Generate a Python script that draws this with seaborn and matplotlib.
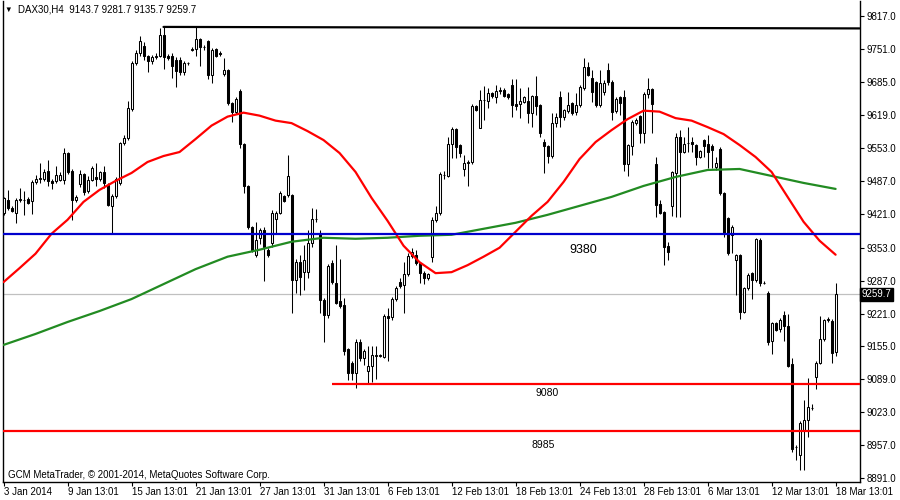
"""DAX30 H4 - bougies, moyennes mobiles et niveaux horizontaux (style MetaTrader)."""
import os
os.environ.setdefault("MPLBACKEND", "Agg")  # pas d'affichage
import matplotlib.pyplot as plt
import seaborn as sns
import numpy as np

sns.set_theme(style="white")
plt.rcParams["font.family"] = ["Liberation Sans", "DejaVu Sans"]
plt.rcParams["text.color"] = "black"

# bougies H4, une par barre (index 0 = 3 Jan 2014)
OPENS = [9422, 9449, 9432, 9422, 9449, 9449, 9450, 9446, 9484, 9491,
         9490, 9506, 9487, 9487, 9489, 9488, 9544, 9506, 9448, 9480,
         9501, 9466, 9489, 9495, 9490, 9504, 9479, 9436, 9456, 9482,
         9563, 9573, 9631, 9723, 9743, 9757, 9738, 9727, 9736, 9738,
         9780, 9738, 9738, 9730, 9730, 9706, 9723, 9750, 9751, 9771,
         9755, 9767, 9700, 9751, 9743, 9701, 9710, 9643, 9626, 9668,
         9562, 9476, 9395, 9338, 9372, 9388, 9349, 9362, 9410, 9422,
         9456, 9459, 9459, 9288, 9325, 9305, 9305, 9363, 9410, 9382,
         9249, 9218, 9322, 9282, 9246, 9238, 9150, 9122, 9101, 9163,
         9131, 9106, 9116, 9136, 9136, 9133, 9216, 9215, 9250, 9285,
         9278, 9300, 9337, 9338, 9322, 9303, 9292, 9334, 9409, 9422,
         9498, 9497, 9561, 9591, 9559, 9510, 9523, 9524, 9638, 9593,
         9649, 9648, 9664, 9655, 9668, 9670, 9661, 9680, 9642, 9642,
         9646, 9648, 9624, 9658, 9640, 9566, 9557, 9537, 9603, 9655,
         9616, 9628, 9643, 9626, 9640, 9673, 9715, 9693, 9686, 9640,
         9666, 9710, 9686, 9628, 9655, 9656, 9521, 9557, 9603, 9618,
         9583, 9662, 9671, 9521, 9441, 9425, 9357, 9436, 9502, 9575,
         9546, 9563, 9565, 9559, 9536, 9569, 9561, 9558, 9514, 9551,
         9462, 9412, 9379, 9328, 9338, 9225, 9272, 9302, 9288, 9369,
         9283, 9263, 9165, 9201, 9189, 9219, 9196, 9120, 8954, 8937,
         8987, 9007, 9032, 9094, 9122, 9169, 9209, 9207, 9143.7]
HIGHS = [9455, 9468, 9436, 9452, 9472, 9466, 9455, 9488, 9499, 9522,
         9510, 9529, 9490, 9516, 9505, 9553, 9546, 9510, 9458, 9509,
         9503, 9496, 9516, 9522, 9507, 9517, 9482, 9460, 9494, 9566,
         9580, 9648, 9727, 9750, 9778, 9765, 9740, 9740, 9744, 9793,
         9797, 9742, 9743, 9735, 9735, 9728, 9726, 9756, 9797, 9774,
         9760, 9770, 9754, 9754, 9748, 9733, 9712, 9645, 9655, 9672,
         9563, 9478, 9396, 9405, 9392, 9395, 9352, 9428, 9426, 9466,
         9458, 9539, 9460, 9330, 9338, 9359, 9389, 9432, 9430, 9388,
         9252, 9320, 9328, 9359, 9330, 9252, 9152, 9125, 9170, 9170,
         9150, 9156, 9156, 9156, 9140, 9220, 9233, 9254, 9276, 9292,
         9324, 9342, 9352, 9348, 9325, 9306, 9303, 9415, 9436, 9505,
         9506, 9575, 9596, 9594, 9562, 9540, 9530, 9642, 9640, 9670,
         9678, 9673, 9666, 9680, 9676, 9674, 9663, 9691, 9692, 9673,
         9658, 9676, 9660, 9698, 9642, 9571, 9560, 9623, 9623, 9668,
         9632, 9666, 9645, 9663, 9680, 9733, 9725, 9710, 9688, 9710,
         9690, 9723, 9690, 9655, 9658, 9670, 9562, 9610, 9614, 9620,
         9666, 9693, 9673, 9536, 9449, 9427, 9365, 9507, 9584, 9589,
         9576, 9596, 9576, 9562, 9550, 9572, 9579, 9561, 9536, 9556,
         9465, 9415, 9398, 9340, 9340, 9275, 9302, 9305, 9373, 9372,
         9287, 9266, 9204, 9204, 9212, 9226, 9221, 9131, 8957, 9005,
         9047, 9091, 9039, 9125, 9216, 9211, 9214, 9210, 9281.7]
LOWS = [9418, 9428, 9424, 9403, 9444, 9419, 9440, 9420, 9480, 9482,
        9487, 9476, 9470, 9483, 9486, 9481, 9500, 9409, 9444, 9474,
        9458, 9462, 9486, 9476, 9487, 9472, 9436, 9383, 9452, 9478,
        9560, 9570, 9627, 9720, 9738, 9730, 9706, 9722, 9731, 9735,
        9711, 9730, 9693, 9676, 9700, 9700, 9720, 9748, 9737, 9717,
        9750, 9691, 9683, 9735, 9738, 9698, 9640, 9606, 9622, 9553,
        9462, 9390, 9345, 9335, 9360, 9287, 9335, 9355, 9380, 9420,
        9444, 9455, 9223, 9262, 9258, 9268, 9292, 9355, 9405, 9223,
        9163, 9213, 9280, 9240, 9232, 9138, 9088, 9088, 9071, 9126,
        9118, 9081, 9084, 9089, 9133, 9131, 9126, 9209, 9247, 9273,
        9223, 9297, 9333, 9318, 9282, 9280, 9289, 9325, 9405, 9418,
        9490, 9494, 9533, 9533, 9536, 9497, 9477, 9520, 9628, 9593,
        9610, 9634, 9653, 9643, 9662, 9655, 9652, 9615, 9630, 9613,
        9643, 9603, 9596, 9620, 9576, 9502, 9522, 9534, 9596, 9596,
        9610, 9623, 9620, 9620, 9636, 9670, 9697, 9646, 9636, 9636,
        9660, 9680, 9609, 9624, 9620, 9506, 9496, 9539, 9600, 9563,
        9563, 9653, 9583, 9415, 9420, 9318, 9328, 9417, 9414, 9414,
        9543, 9546, 9546, 9519, 9533, 9536, 9512, 9512, 9509, 9458,
        9375, 9339, 9342, 9258, 9211, 9222, 9269, 9251, 9285, 9276,
        9280, 9158, 9140, 9185, 9183, 9165, 9113, 8944, 8928, 8908,
        8908, 8974, 9027, 9069, 9119, 9166, 9205, 9121, 9135.7]
CLOSES = [9452, 9432, 9427, 9449, 9450, 9448, 9443, 9484, 9490, 9492,
          9504, 9486, 9482, 9499, 9499, 9544, 9504, 9448, 9454, 9501,
          9464, 9489, 9512, 9490, 9504, 9482, 9439, 9456, 9490, 9563,
          9574, 9633, 9723, 9743, 9768, 9737, 9727, 9735, 9737, 9780,
          9735, 9734, 9717, 9708, 9706, 9724, 9724, 9752, 9771, 9755,
          9756, 9700, 9750, 9738, 9742, 9710, 9643, 9626, 9651, 9562,
          9476, 9395, 9349, 9368, 9388, 9355, 9338, 9422, 9422, 9462,
          9446, 9497, 9288, 9325, 9295, 9328, 9362, 9410, 9411, 9248,
          9218, 9316, 9285, 9243, 9236, 9146, 9101, 9101, 9163, 9132,
          9146, 9116, 9138, 9137, 9137, 9216, 9213, 9251, 9272, 9276,
          9300, 9337, 9345, 9322, 9303, 9292, 9300, 9409, 9422, 9500,
          9499, 9561, 9591, 9556, 9544, 9522, 9524, 9638, 9630, 9650,
          9650, 9664, 9657, 9668, 9669, 9658, 9655, 9640, 9638, 9648,
          9656, 9624, 9658, 9638, 9583, 9557, 9537, 9604, 9615, 9615,
          9630, 9640, 9623, 9640, 9676, 9715, 9700, 9666, 9640, 9683,
          9684, 9686, 9626, 9651, 9643, 9521, 9559, 9606, 9609, 9583,
          9662, 9671, 9642, 9439, 9423, 9355, 9345, 9504, 9576, 9546,
          9561, 9564, 9561, 9536, 9547, 9557, 9546, 9550, 9522, 9462,
          9382, 9342, 9395, 9338, 9225, 9272, 9298, 9288, 9370, 9282,
          9283, 9163, 9201, 9188, 9209, 9195, 9116, 8950, 8954, 9002,
          9007, 9034, 9032, 9122, 9169, 9208, 9210, 9141, 9259.7]

# moyennes mobiles
RED_MA_BARS = list(range(0, 209, 4))
RED_MA = [9284, 9312, 9341, 9381, 9409, 9445, 9469, 9487, 9503, 9525,
          9537, 9545, 9571, 9598, 9616, 9624, 9618, 9608, 9603, 9587,
          9569, 9543, 9505, 9453, 9407, 9357, 9324, 9302, 9304, 9318,
          9335, 9353, 9385, 9417, 9445, 9485, 9531, 9565, 9589, 9611,
          9628, 9626, 9613, 9608, 9595, 9581, 9559, 9535, 9505, 9455,
          9405, 9367, 9339]
GREEN_MA_BARS = list(range(0, 209, 8))
GREEN_MA = [9158, 9180, 9204, 9226, 9250, 9280, 9310, 9335, 9349, 9365,
            9373, 9371, 9373, 9377, 9379, 9391, 9403, 9419, 9437, 9455,
            9477, 9495, 9509, 9511, 9497, 9483, 9471]

# niveaux horizontaux et ligne de tendance
LEVEL_BLUE = 9380
LEVEL_MID = 9080
LEVEL_MID_START = 82
LEVEL_LOW = 8985
LAST_PRICE = 9259.7
TREND_BARS = [40, 214]
TREND_PRICES = [9796, 9793]

X_TICK_BARS = list(range(0, 209, 16))
X_TICK_LABELS = ["3 Jan 2014", "9 Jan 13:01", "15 Jan 13:01", "21 Jan 13:01",
                 "27 Jan 13:01", "31 Jan 13:01", "6 Feb 13:01", "12 Feb 13:01",
                 "18 Feb 13:01", "24 Feb 13:01", "28 Feb 13:01", "6 Mar 13:01",
                 "12 Mar 13:01", "18 Mar 13:01"]
Y_TICKS = [8891, 8957, 9023, 9089, 9155, 9221, 9287, 9353,
           9421, 9487, 9553, 9619, 9685, 9751, 9817]


def main():
    fig = plt.figure(figsize=(9, 5), dpi=100)
    ax = fig.add_axes([2.5 / 900, 18 / 500, 857.5 / 900, 481 / 500])

    o, h, l, c = (np.array(a, dtype=float) for a in (OPENS, HIGHS, LOWS, CLOSES))
    x = np.arange(len(o))

    # prix courant + bougies
    ax.axhline(LAST_PRICE, color="#c0c0c0", linewidth=0.9, zorder=1)
    ax.vlines(x, l, h, color="black", linewidth=0.75, zorder=3)
    ax.bar(x, np.abs(c - o), bottom=np.minimum(o, c), width=0.5,
           color=np.where(c > o, "white", "black"), edgecolor="black",
           linewidth=0.75, zorder=4)

    sns.lineplot(x=GREEN_MA_BARS, y=GREEN_MA, color="#228b22", linewidth=1.6, ax=ax, zorder=5)
    sns.lineplot(x=RED_MA_BARS, y=RED_MA, color="#ff0000", linewidth=1.6, ax=ax, zorder=5)

    ax.axhline(LEVEL_BLUE, color="#0000cd", linewidth=1.6, zorder=6)
    ax.axhline(LEVEL_LOW, color="#ff0000", linewidth=1.6, zorder=6)
    ax.hlines(LEVEL_MID, LEVEL_MID_START, 215, color="#ff0000", linewidth=1.6, zorder=6)
    ax.plot(TREND_BARS, TREND_PRICES, color="black", linewidth=1.6, zorder=6)

    ax.text(145, 9349, "9380", ha="center", va="center", fontsize=9)
    ax.text(136, 9061, "9080", ha="center", va="center", fontsize=7.5)
    ax.text(135, 8957, "8985", ha="center", va="center", fontsize=7.5)

    ax.set_xlim(-0.25, 214.1)
    ax.set_ylim(8883, 9848)

    # axes style MetaTrader
    ax.yaxis.tick_right()
    ax.set_yticks(Y_TICKS)
    ax.set_yticklabels([f"{v:.1f}" for v in Y_TICKS])
    ax.set_xticks(X_TICK_BARS)
    ax.set_xticklabels(X_TICK_LABELS, ha="left")
    ax.tick_params(axis="y", right=True, left=False, labelright=True, labelleft=False,
                   direction="out", length=3, width=0.8, pad=1.5, labelsize=7,
                   color="black", labelcolor="black")
    ax.tick_params(axis="x", bottom=True, direction="out", length=3, width=0.8,
                   pad=0.5, labelsize=7, color="black", labelcolor="black")
    for side in ["left", "right", "bottom"]:
        ax.spines[side].set_color("black")
        ax.spines[side].set_linewidth(1)
    ax.spines["top"].set_visible(False)
    ax.set_xlabel(""); ax.set_ylabel("")

    ax.text(1.002, LAST_PRICE, "9259.7", transform=ax.get_yaxis_transform(),
            ha="left", va="center", fontsize=7, color="white",
            bbox=dict(boxstyle="square,pad=0.15", fc="black", ec="black"))

    fig.text(4 / 900, 1 - 10 / 500, "▼", fontsize=5.5, va="center")
    fig.text(18 / 900, 1 - 10 / 500, "DAX30,H4  9143.7 9281.7 9135.7 9259.7",
             fontsize=7, va="center")
    ax.text(0.0064, 0.0146, "GCM MetaTrader, © 2001-2014, MetaQuotes Software Corp.",
            transform=ax.transAxes, fontsize=7, va="center")

    fig.savefig("out.png", dpi=100)
    plt.close(fig)


if __name__ == "__main__":
    main()
